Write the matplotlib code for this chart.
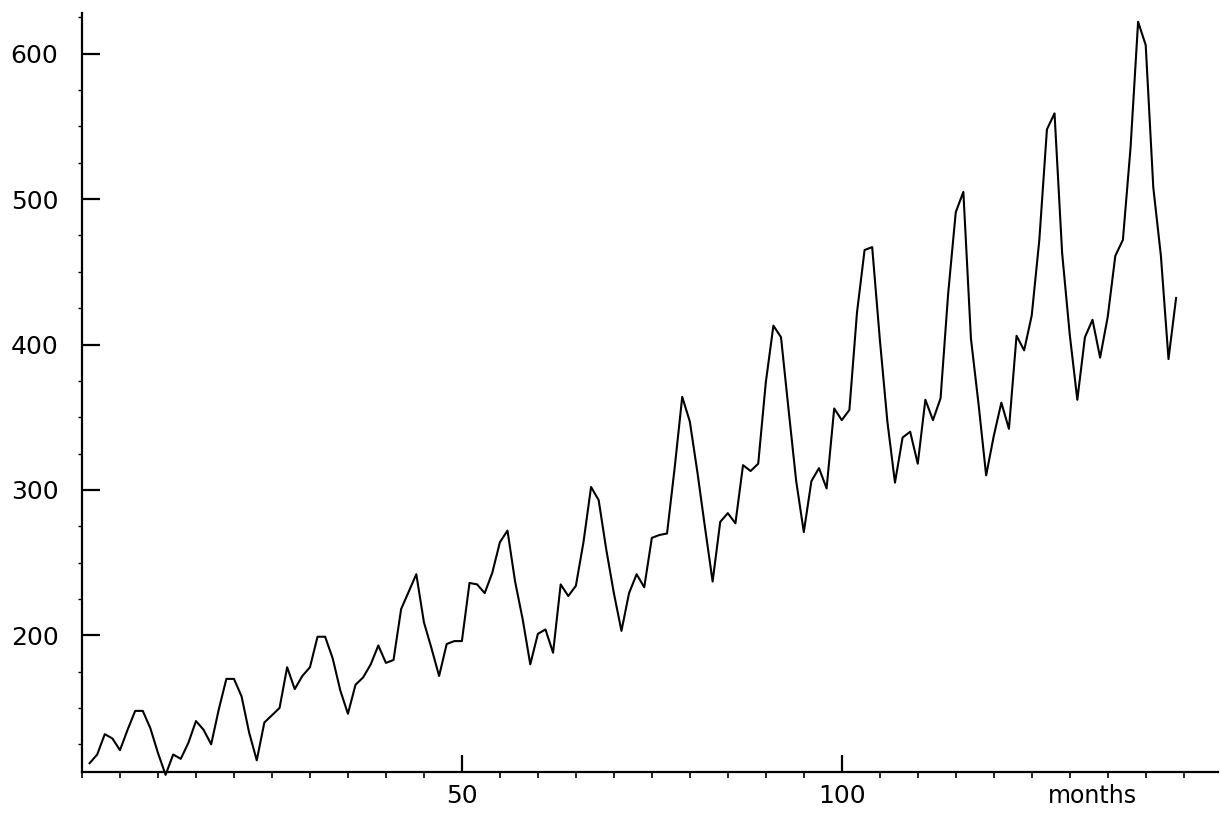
import matplotlib
matplotlib.use("Agg")
import matplotlib.pyplot as plt
from matplotlib.ticker import MultipleLocator, FixedLocator

# Monthly values (classic airline series, 144 months)
values = [
    112, 118, 132, 129, 121, 135, 148, 148, 136, 119, 104, 118,
    115, 126, 141, 135, 125, 149, 170, 170, 158, 133, 114, 140,
    145, 150, 178, 163, 172, 178, 199, 199, 184, 162, 146, 166,
    171, 180, 193, 181, 183, 218, 230, 242, 209, 191, 172, 194,
    196, 196, 236, 235, 229, 243, 264, 272, 237, 211, 180, 201,
    204, 188, 235, 227, 234, 264, 302, 293, 259, 229, 203, 229,
    242, 233, 267, 269, 270, 315, 364, 347, 312, 274, 237, 278,
    284, 277, 317, 313, 318, 374, 413, 405, 355, 306, 271, 306,
    315, 301, 356, 348, 355, 422, 465, 467, 404, 347, 305, 336,
    340, 318, 362, 348, 363, 435, 491, 505, 404, 359, 310, 337,
    360, 342, 406, 396, 420, 472, 548, 559, 463, 407, 362, 405,
    417, 391, 419, 461, 472, 535, 622, 606, 508, 461, 390, 432,
]
months = list(range(1, len(values) + 1))
x_ticks = [50, 100]
y_ticks = [200, 300, 400, 500, 600]
x_label = "months"

fig = plt.figure(figsize=(12.24, 8.16), dpi=100)
ax = fig.add_axes([0.067, 0.054, 0.928, 0.930])

ax.plot(months, values, color="black", lw=1.5, clip_on=False)

ax.set_xlim(0, 149.5)
ax.set_ylim(106, 628)

for s in ["top", "right"]:
    ax.spines[s].set_visible(False)
for s in ["left", "bottom"]:
    ax.spines[s].set_linewidth(1.6)

ax.xaxis.set_major_locator(FixedLocator(x_ticks))
ax.xaxis.set_minor_locator(MultipleLocator(5))
ax.yaxis.set_major_locator(FixedLocator(y_ticks))
ax.yaxis.set_minor_locator(MultipleLocator(25))

ax.tick_params(axis="x", which="major", direction="in", length=12, width=1.6,
               labelsize=18, pad=9)
ax.tick_params(axis="x", which="minor", direction="out", length=4, width=1.2)
ax.tick_params(axis="y", which="major", direction="in", length=13, width=1.6,
               labelsize=18, pad=17)
ax.tick_params(axis="y", which="minor", direction="out", length=3, width=1.0)

ax.annotate(x_label, xy=(133, 0), xycoords=("data", "axes fraction"),
            xytext=(0, -9), textcoords="offset points",
            ha="center", va="top", fontsize=17)

fig.savefig("out.png", dpi=100)
